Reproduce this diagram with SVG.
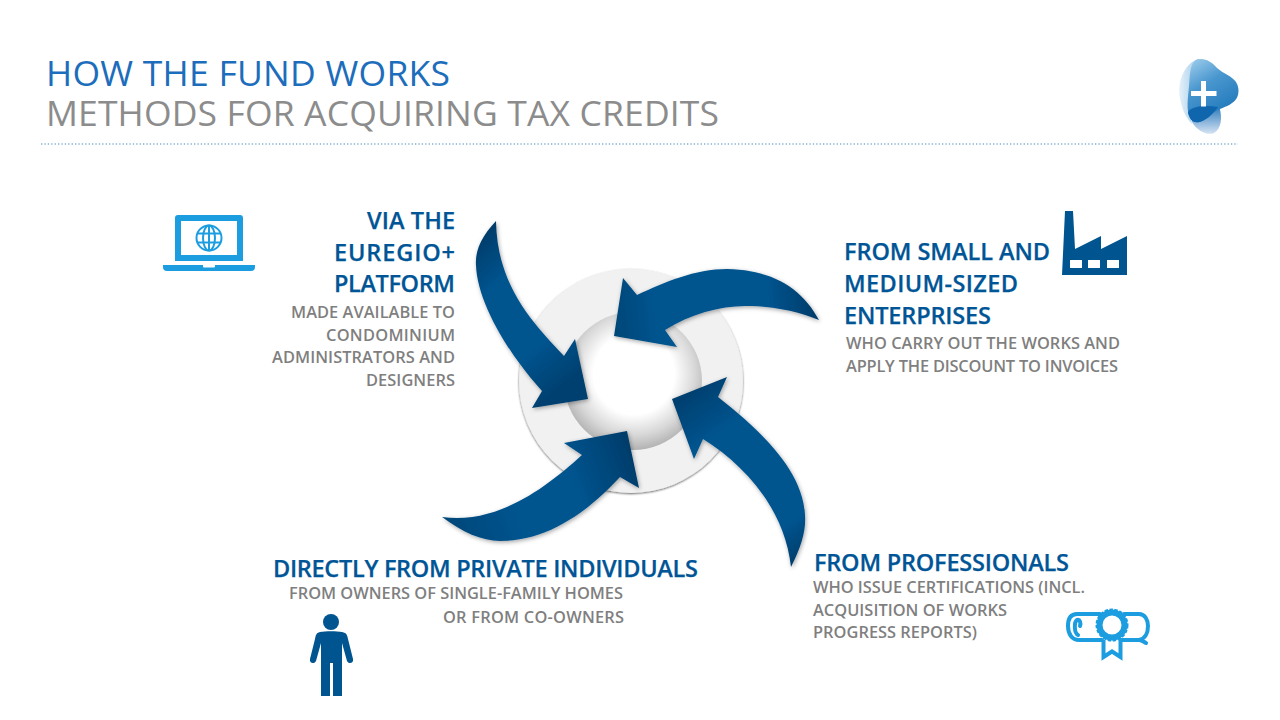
<svg xmlns="http://www.w3.org/2000/svg" width="1280" height="720" viewBox="0 0 1280 720">
<style>
text{font-family:"Open Sans","Liberation Sans",sans-serif}
.t{font-size:35.5px;font-weight:400}
.h{font-size:23.5px;font-weight:600;fill:#005596;stroke:#005596;stroke-width:.25px}
.s{font-size:16.4px;font-weight:600;fill:#7f7f7f}
.e{text-anchor:end}
.lb{fill:#1c9de0}
.db{fill:#00548f}
.arrow{filter:url(#sh)}
</style>
<defs>
<filter id="sh" x="-15%" y="-15%" width="130%" height="130%"><feDropShadow dx="1" dy="1.500" stdDeviation="2" flood-color="#000" flood-opacity=".35"/></filter>
<filter id="rs" x="-10%" y="-10%" width="120%" height="120%"><feDropShadow dx="0" dy="1" stdDeviation="1.200" flood-color="#000" flood-opacity=".6"/></filter>
<radialGradient id="hole" gradientUnits="userSpaceOnUse" cx="634" cy="374" r="78"><stop offset=".52" stop-color="#fff"/><stop offset=".78" stop-color="#d8d8d8"/><stop offset="1" stop-color="#adadad"/></radialGradient>
<linearGradient id="a1" gradientUnits="userSpaceOnUse" x1="478" y1="232" x2="590" y2="365"><stop offset="0" stop-color="#003a66"/><stop offset=".3" stop-color="#00548f"/><stop offset=".72" stop-color="#00548f"/><stop offset="1" stop-color="#00406f"/></linearGradient>
<linearGradient id="a2" gradientUnits="userSpaceOnUse" x1="820" y1="300" x2="615" y2="320"><stop offset="0" stop-color="#003a66"/><stop offset=".25" stop-color="#00548f"/><stop offset=".8" stop-color="#00548f"/><stop offset="1" stop-color="#004778"/></linearGradient>
<linearGradient id="a3" gradientUnits="userSpaceOnUse" x1="795" y1="570" x2="675" y2="400"><stop offset="0" stop-color="#003a66"/><stop offset=".2" stop-color="#00548f"/><stop offset=".75" stop-color="#00548f"/><stop offset="1" stop-color="#003f6e"/></linearGradient>
<linearGradient id="a4" gradientUnits="userSpaceOnUse" x1="442" y1="520" x2="640" y2="450"><stop offset="0" stop-color="#004778"/><stop offset=".35" stop-color="#00548f"/><stop offset=".65" stop-color="#00548f"/><stop offset="1" stop-color="#003a66"/></linearGradient>
<linearGradient id="lg1" x1="0" y1="0" x2=".5" y2="1"><stop offset="0" stop-color="#a3d0ee"/><stop offset=".45" stop-color="#4a97cf"/><stop offset="1" stop-color="#1f78ba"/></linearGradient>
<linearGradient id="lg2" x1="0" y1="0" x2="1" y2="0"><stop offset="0" stop-color="#e3f0f9"/><stop offset="1" stop-color="#8fc1e6"/></linearGradient>
<linearGradient id="lg3" x1="0" y1="0" x2="0" y2="1"><stop offset="0" stop-color="#2a78ba"/><stop offset="1" stop-color="#d5e3f4"/></linearGradient>
</defs>

<g id="title">
<text class="t" x="46" y="86" fill="#1c6dbb" textLength="404">HOW THE FUND WORKS</text>
<text class="t" x="46" y="125.500" fill="#8c8c8c" textLength="673">METHODS FOR ACQUIRING TAX CREDITS</text>
<line x1="41" y1="144" x2="1238" y2="144" stroke="#7fb2d4" stroke-width="1.300" stroke-dasharray="1.300 2.100"/>
</g>

<g id="logo">
<path d="M1198 59C1184 64 1177 82 1180 98C1182 110 1186 118 1192 124C1188 108 1189 92 1196 80C1202 70 1208 62 1198 59Z" fill="url(#lg2)"/>
<path d="M1192 122C1197 131 1208 136 1214 133C1221 129 1223 118 1219 106L1192 110Z" fill="url(#lg3)"/>
<path d="M1196 60C1204 57 1212 62 1217 68C1224 74 1232 76 1236 82C1241 90 1238 100 1232 103C1226 108 1218 108 1212 114C1204 122 1194 126 1190 118C1186 110 1188 98 1189 86C1190 74 1190 64 1196 60Z" fill="url(#lg1)"/>
<path d="M1188 112C1192 106 1205 105 1218 107C1216 110 1214 112 1212 114C1204 122 1194 126 1190 118C1189 116 1188 114 1188 112Z" fill="#0f66ad"/>
<path d="M1201 81h5v10h10.500v5h-10.500v10.500h-5v-10.500h-10v-5h10z" fill="#fff"/>
</g>

<g id="hub">
<circle cx="631" cy="381" r="112" fill="#f1f1f1" filter="url(#rs)"/>
<circle cx="633" cy="381" r="69" fill="url(#hole)"/>
</g>

<g id="connectors">
<path id="arrow-platform" class="arrow" fill="url(#a1)" d="M496 221C482 236 475 250 476 265C477 300 505 350 542 391L532 408L588 399L575 339L564 356C532 322 497 285 496 221Z"/>
<path id="arrow-sme" class="arrow" fill="url(#a2)" d="M819 320C803 290 775 270 727 269C695 269 665 282 637 295L623 278L614 336L677 347L665 330C690 314 720 306 745 306C775 306 800 312 819 320Z"/>
<path id="arrow-prof" class="arrow" fill="url(#a3)" d="M791 567C802 545 806 530 805 515C803 470 760 430 718 397L727 377L672 399L694 459L703 439C745 465 785 510 791 567Z"/>
<path id="arrow-private" class="arrow" fill="url(#a4)" d="M442 517C462 532 482 541 500 541C545 541 585 515 620 477L639 488L627 431L564 443L582 455C547 487 497 525 442 517Z"/>
</g>

<g id="node-platform">
<text class="h e" x="455" y="229" textLength="88">VIA THE</text>
<text class="h e" x="455" y="260.500" textLength="121">EUREGIO+</text>
<text class="h e" x="455" y="292" textLength="121">PLATFORM</text>
<text class="s e" x="455" y="318" textLength="164">MADE AVAILABLE TO</text>
<text class="s e" x="455" y="341" textLength="129">CONDOMINIUM</text>
<text class="s e" x="455" y="363" textLength="183">ADMINISTRATORS AND</text>
<text class="s e" x="455" y="386" textLength="89">DESIGNERS</text>
<g id="icon-laptop">
<path class="lb" fill-rule="evenodd" d="M178 215h62a3 3 0 0 1 3 3v43h-68v-43a3 3 0 0 1 3-3zM181 221v34h56v-34z"/>
<path class="lb" d="M163 265h40v1.500a1 1 0 0 0 1 1h10a1 1 0 0 0 1-1v-1.500h40v2a4 4 0 0 1-4 4h-84a4 4 0 0 1-4-4z"/>
<g fill="none" stroke="#1c9de0" stroke-width="2"><circle cx="209" cy="238" r="12.500"/><ellipse cx="209" cy="238" rx="6" ry="12.500"/><line x1="209" y1="225.500" x2="209" y2="250.500"/><line x1="197" y1="233.500" x2="221" y2="233.500"/><line x1="197" y1="242.500" x2="221" y2="242.500"/></g>
</g>
</g>

<g id="node-sme">
<text class="h" x="844" y="260" textLength="206">FROM SMALL AND</text>
<text class="h" x="844" y="292" textLength="174">MEDIUM-SIZED</text>
<text class="h" x="844" y="324" textLength="147">ENTERPRISES</text>
<text class="s" x="846" y="349" textLength="274">WHO CARRY OUT THE WORKS AND</text>
<text class="s" x="846" y="372" textLength="272">APPLY THE DISCOUNT TO INVOICES</text>
<path id="icon-factory" class="db" fill-rule="evenodd" d="M1065 211h8l2 38 26-13v13l26-13v39h-65zM1070 260v8h12v-8zM1088 260v8h12v-8zM1107 260v8h12v-8z"/>
</g>

<g id="node-professionals">
<text class="h" x="814" y="571" textLength="255">FROM PROFESSIONALS</text>
<text class="s" x="813" y="593" textLength="272">WHO ISSUE CERTIFICATIONS (INCL.</text>
<text class="s" x="813" y="616" textLength="194">ACQUISITION OF WORKS</text>
<text class="s" x="813" y="638" textLength="164">PROGRESS REPORTS)</text>
<g id="icon-diploma" fill="none" stroke="#1c9de0" stroke-width="4" stroke-linecap="round">
<path d="M1100 614H1077C1070 614 1068 620 1068 626C1068 634 1072 640 1079 640H1102"/>
<path d="M1078 635C1074 633 1074 622 1077 620C1080 619 1081 623 1080 626"/>
<path d="M1124 614H1139C1145 614 1148 620 1148 626C1148 633 1145 639 1139 640H1121"/>
<path d="M1139 640C1142 640 1144 642 1146 643"/>
<circle cx="1112" cy="625" r="12.500" stroke-width="6"/>
<circle cx="1112" cy="625" r="15.500" stroke-width="2" stroke-dasharray="3.500 1.500" stroke-linecap="butt"/>
<path stroke-linecap="butt" d="M1103.500 640V657L1112 651.500L1120.500 657V640"/>
</g>
</g>

<g id="node-private">
<text class="h" x="273" y="576.500" textLength="425">DIRECTLY FROM PRIVATE INDIVIDUALS</text>
<text class="s" x="289" y="599" textLength="334">FROM OWNERS OF SINGLE-FAMILY HOMES</text>
<text class="s" x="443" y="623" textLength="181">OR FROM CO-OWNERS</text>
<g id="icon-person" class="db">
<circle cx="331" cy="622" r="8"/>
<path d="M320 632C325 631 337 631 342 632C347 633 347 635 348 639L353 659C354 664 348 664 347 661L342 643V696H333V663H330V696H321V643L316 661C315 664 309 664 310 659L315 639C316 635 316 633 320 632Z"/>
</g>
</g>
</svg>
